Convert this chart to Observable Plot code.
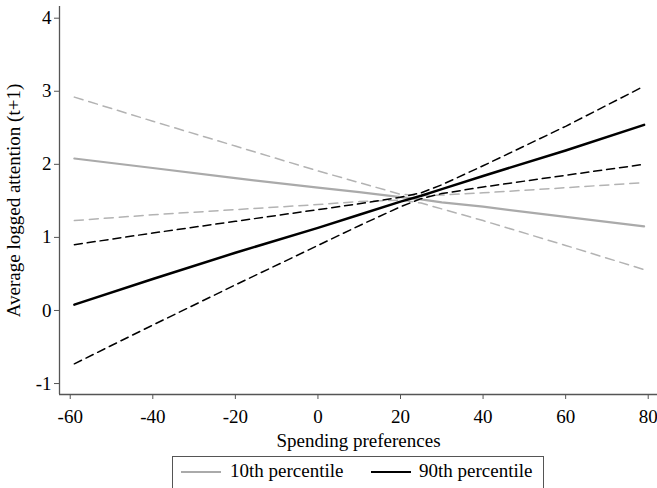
<!DOCTYPE html>
<html>
<head>
<meta charset="utf-8">
<script src="https://cdn.jsdelivr.net/npm/d3@7"></script>
<script src="https://cdn.jsdelivr.net/npm/@observablehq/plot@0.6"></script>
<style>
  html, body { margin: 0; padding: 0; background: #fff; }
  #wrap { width: 657px; font-family: "Liberation Serif", "DejaVu Serif", serif; }
  #legend {
    margin-left: 172px; width: 372px; height: 40px; box-sizing: border-box;
    border: 1px solid #555; border-bottom: none; position: relative; font-size: 19px;
  }
  .sw { position: absolute; top: 14px; height: 0; width: 40px; }
  .lt { position: absolute; top: 3px; line-height: 22px; }
</style>
</head>
<body>
<div id="wrap">
  <div id="chart"></div>
  <div id="legend">
    <div class="sw" style="left:8px; border-top:2px solid #aaaaaa;"></div>
    <div class="lt" style="left:57px;">10th percentile</div>
    <div class="sw" style="left:198px; border-top:2.5px solid #000;"></div>
    <div class="lt" style="left:246px;">90th percentile</div>
  </div>
</div>
<script>
// Spending preferences (x) positions at which the curves were read
const xs     = [-59, -40, -20, 0, 10, 20, 25, 30, 40, 60, 79];
// 10th percentile: prediction and confidence bounds
const p10    = [2.08, 1.95, 1.81, 1.68, 1.62, 1.55, 1.52, 1.48, 1.42, 1.28, 1.15];
const p10hi  = [2.92, 2.59, 2.25, 1.91, 1.75, 1.59, 1.57, 1.58, 1.61, 1.68, 1.75];
const p10lo  = [1.23, 1.31, 1.38, 1.45, 1.49, 1.51, 1.47, 1.39, 1.23, 0.89, 0.56];
// 90th percentile: prediction and confidence bounds
const p90    = [0.08, 0.43, 0.79, 1.13, 1.31, 1.49, 1.57, 1.66, 1.84, 2.19, 2.54];
const p90hi  = [0.90, 1.06, 1.22, 1.38, 1.46, 1.55, 1.61, 1.72, 1.98, 2.52, 3.07];
const p90lo  = [-0.73, -0.20, 0.35, 0.89, 1.16, 1.42, 1.53, 1.60, 1.69, 1.85, 2.00];
// Tick labels
const xTicks = [-60, -40, -20, 0, 20, 40, 60, 80];
const yTicks = [-1, 0, 1, 2, 3, 4];

const pts = arr => xs.map((x, i) => ({x, y: arr[i]}));
const xDom = [-62.6, 82.25];
const yDom = [-1.15, 4.16];
const axisColor = "#555";

const chart = Plot.plot({
  width: 657,
  height: 456,
  marginLeft: 59,
  marginRight: 0,
  marginTop: 6,
  marginBottom: 62,
  style: {fontFamily: "'Liberation Serif', serif", fontSize: "19px", background: "#fff", color: "#000"},
  x: {domain: xDom},
  y: {domain: yDom},
  marks: [
    Plot.ruleX([xDom[0]], {stroke: axisColor, strokeWidth: 1.3}),
    Plot.ruleY([yDom[0]], {stroke: axisColor, strokeWidth: 1.3}),
    Plot.axisX(xTicks, {tickSize: 5, tickPadding: 10, stroke: axisColor, tickFormat: d => String(d),
      label: "Spending preferences", labelAnchor: "center", labelArrow: "none", labelOffset: 52, fill: "#000"}),
    Plot.axisY(yTicks, {tickSize: 5, tickPadding: 3, stroke: axisColor, tickFormat: d => String(d),
      label: "Average logged attention (t+1)", labelAnchor: "center", labelArrow: "none", labelOffset: 53, fill: "#000"}),
    Plot.line(pts(p10hi), {x: "x", y: "y", stroke: "#b3b3b3", strokeWidth: 1.5, strokeDasharray: "9,6"}),
    Plot.line(pts(p10lo), {x: "x", y: "y", stroke: "#b3b3b3", strokeWidth: 1.5, strokeDasharray: "9,6"}),
    Plot.line(pts(p10),   {x: "x", y: "y", stroke: "#aaaaaa", strokeWidth: 2.2}),
    Plot.line(pts(p90hi), {x: "x", y: "y", stroke: "#000", strokeWidth: 1.5, strokeDasharray: "8,5"}),
    Plot.line(pts(p90lo), {x: "x", y: "y", stroke: "#000", strokeWidth: 1.5, strokeDasharray: "8,5"}),
    Plot.line(pts(p90),   {x: "x", y: "y", stroke: "#000", strokeWidth: 2.5})
  ]
});
document.getElementById("chart").appendChild(chart);
</script>
</body>
</html>
